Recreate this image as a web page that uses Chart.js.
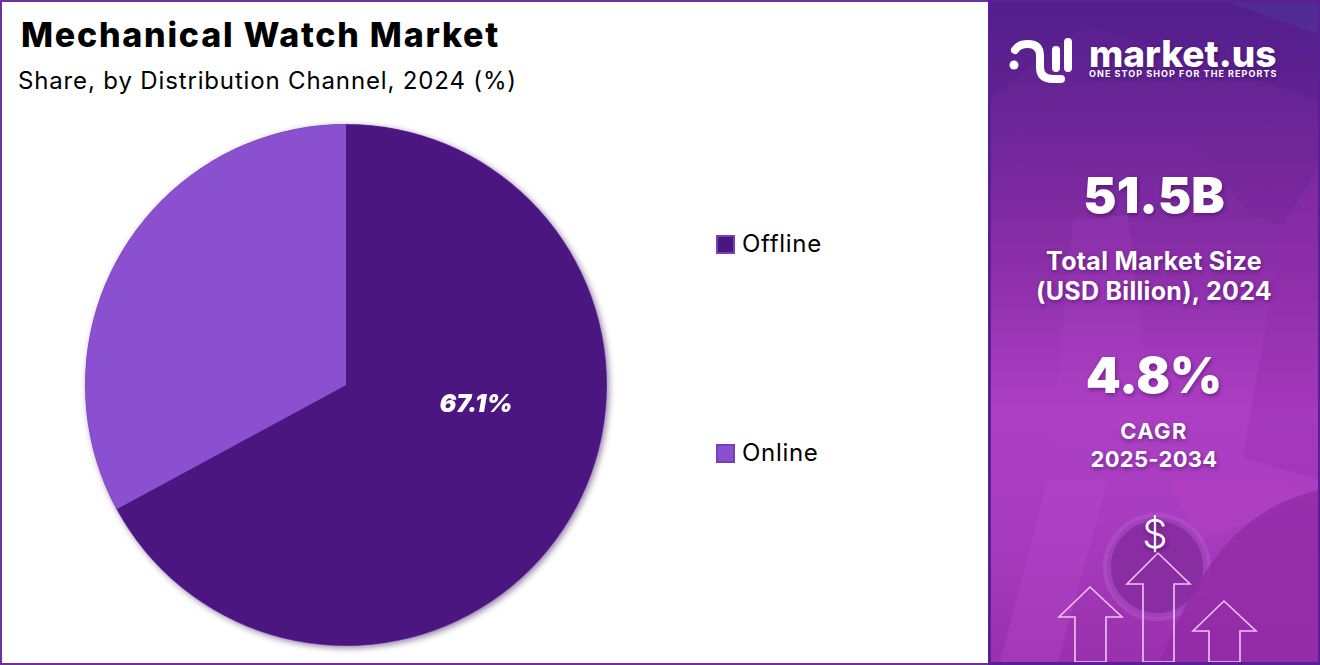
<!DOCTYPE html>
<html>
<head>
<meta charset="utf-8">
<title>Mechanical Watch Market</title>
<script src="https://cdn.jsdelivr.net/npm/chart.js@4"></script>
<style>
html, body { margin: 0; padding: 0; background: #fff; }
body { width: 1320px; height: 665px; position: relative; overflow: hidden; font-family: Inter, "Open Sans", sans-serif; color: #000; }
#frame { position: absolute; left: 0; top: 0; width: 986px; height: 661px; border: 2px solid #6f2f9f; }
#chartBox { position: absolute; left: 66px; top: 105px; width: 560px; height: 560px; }
h1 { position: absolute; left: 21px; top: 14px; margin: 0; font-size: 34px; line-height: 42px; font-weight: 800; letter-spacing: 1.75px; white-space: nowrap; }
h2 { position: absolute; left: 18px; top: 65px; margin: 0; font-size: 24px; line-height: 32px; font-weight: 400; letter-spacing: .85px; white-space: nowrap; }
.legend { position: absolute; left: 716px; font-size: 24px; line-height: 30px; letter-spacing: .7px; white-space: nowrap; padding-left: 26px; }
.legend i { position: absolute; left: 0; top: 6px; width: 15px; height: 15px; border: 2px solid #7a3fb8; }
#panel { position: absolute; left: 988px; top: 0; width: 332px; height: 665px; overflow: hidden; color: #fff; text-align: center;
  background: linear-gradient(180deg, #54208f 0%, #6c2596 18%, #8f30ab 42%, #ad3fc4 62%, #a83cc0 78%, #9a30ac 100%); }
#panel svg { position: absolute; left: 0; top: 0; }
#panel div { position: absolute; left: 0; width: 332px; text-shadow: 1px 2px 4px rgba(40,0,70,.45); white-space: nowrap; }
#edge { height: 665px; box-sizing: border-box; border: 3px solid #5a1f96; border-right-width: 2px; text-shadow: none !important; }
.brand { font-weight: 800; font-size: 37px; line-height: 40px; }
.tag { font-weight: 700; font-size: 9px; line-height: 12px; letter-spacing: 1.05px; }
.big { font-weight: 900; font-size: 50px; line-height: 60px; }
.sub { font-weight: 700; font-size: 25px; line-height: 30px; letter-spacing: .3px; }
.sub2 { font-weight: 700; font-size: 22px; line-height: 30px; letter-spacing: .3px; }
</style>
</head>
<body>
<div id="frame"></div>
<h1>Mechanical Watch Market</h1>
<h2>Share, by Distribution Channel, 2024 (%)</h2>
<div id="chartBox"><canvas id="pie"></canvas></div>
<div id="legendBox"></div>
<div id="panel">
  <svg width="332" height="665" fill="none">
    <!-- faint background photo shapes -->
    <path d="M0 100 L97 24 L332 100 L332 0 L0 0 Z" fill="#4c1c86" opacity=".22"/>
    <path d="M235 0 L332 35 L332 0 Z" fill="#4f3a9c" opacity=".5"/>
    <path d="M197 130 L332 130 L332 165 L295 225 L262 215 Z" fill="#6d2290" opacity=".25"/>
    <path d="M295 227 L332 165 L332 480 L255 457 Z" fill="#8f2aa5" opacity=".3"/>
    <path d="M85 220 L140 215 L150 300 L170 480 L60 480 Z" fill="#b045c8" opacity=".2"/>
    <path d="M60 480 L120 480 L70 662 L12 662 Z" fill="#b84dd0" opacity=".3"/>
    <path d="M180 480 L300 480 L332 500 L210 540 Z" fill="#b944bc" opacity=".35"/>
    <circle cx="169" cy="567" r="50" fill="#8a2ca2" stroke="#b75bd0" stroke-width="8" stroke-opacity=".45"/>
    <path d="M170 665 C205 585 240 510 332 490 L332 665 Z" fill="#932ba6" opacity=".85"/>
    <!-- logo -->
    <path d="M27 50 Q31 44 40 44 Q52 44 52 56 V67 Q52 79 65 79 H73" stroke="#fff" stroke-width="8" stroke-linecap="round"/>
    <path d="M68 50 V68 M80 42 V68" stroke="#fff" stroke-width="8" stroke-linecap="round"/>
    <circle cx="26" cy="65" r="4.5" fill="#fff"/>
    <!-- arrows -->
    <g stroke="#eec4f2" stroke-width="1.6">
      <path d="M87 662 V617 H71 L102 587 L134 617 H118 V662 Z"/>
      <path d="M155 662 V584 H139 L170 553 L202 584 H186 V662 Z"/>
      <path d="M221 662 V631 H205 L236 601 L268 631 H252 V662 Z"/>
    </g>
  </svg>
  <div id="edge"></div>
  <div class="brand" style="left:101px;width:200px;top:34px;text-align:left;">market.us</div>
  <div class="tag" style="left:101px;width:200px;top:68px;text-align:left;">ONE STOP SHOP FOR THE REPORTS</div>
  <div class="big" style="top:165px;">51.5B</div>
  <div class="sub" style="top:246px;">Total Market Size</div>
  <div class="sub" style="top:276px;">(USD Billion), 2024</div>
  <div class="big" style="top:345px;">4.8%</div>
  <div class="sub2" style="top:416px;letter-spacing:1.3px;">CAGR</div>
  <div class="sub2" style="top:444px;">2025-2034</div>
  <div style="top:510px;left:1px;font-size:40px;line-height:48px;font-weight:300;">$</div>
</div>
<script>
// Data
const channels = ["Offline", "Online"];
const shares = [67.1, 32.9];
const sliceColors = ["#4c1680", "#8b50cf"];
const shownLabels = ["67.1%", ""];

// legend rows, same colours as the slices
const legendTops = [229, 438];
const legendBox = document.getElementById("legendBox");
channels.forEach(function (name, i) {
    let row = document.createElement("div");
    row.className = "legend";
    row.style.top = legendTops[i] + "px";
    row.innerHTML = "<i style='background:" + sliceColors[i] + "'></i>" + name;
    legendBox.appendChild(row);
});

// draws the value label on the slice
const sliceLabels = {
    id: "sliceLabels",
    afterDatasetsDraw(chart) {
        const ctx = chart.ctx;
        chart.getDatasetMeta(0).data.forEach(function (arc, i) {
            if (!shownLabels[i]) return;
            ctx.save();
            ctx.font = "italic 900 25px Inter";
            ctx.fillStyle = "#fff";
            ctx.textAlign = "center";
            ctx.textBaseline = "middle";
            ctx.fillText(shownLabels[i], arc.x + 130, arc.y + 19);
            ctx.restore();
        });
    }
};

// soft shadow and thin rim behind the whole pie, so the slice edge stays clean
const pieShadow = {
    id: "pieShadow",
    beforeDatasetsDraw(chart) {
        const ctx = chart.ctx;
        const arc = chart.getDatasetMeta(0).data[0];
        ctx.save();
        ctx.shadowColor = "rgba(40,10,70,.5)";
        ctx.shadowBlur = 6;
        ctx.shadowOffsetX = 2;
        ctx.shadowOffsetY = 2;
        ctx.beginPath();
        ctx.arc(arc.x, arc.y, arc.outerRadius + .5, 0, Math.PI * 2);
        ctx.fillStyle = "#7a3fb8";
        ctx.fill();
        ctx.restore();
    }
};

new Chart(document.getElementById("pie"), {
    type: "pie",
    data: {
        labels: channels,
        datasets: [{
            data: shares,
            backgroundColor: sliceColors,
            borderWidth: 0
        }]
    },
    options: {
        responsive: true,
        maintainAspectRatio: false,
        animation: false,
        radius: 260.5,
        layout: { padding: 0 },
        plugins: { legend: { display: false }, tooltip: { enabled: false } }
    },
    plugins: [pieShadow, sliceLabels]
});
</script>
</body>
</html>
